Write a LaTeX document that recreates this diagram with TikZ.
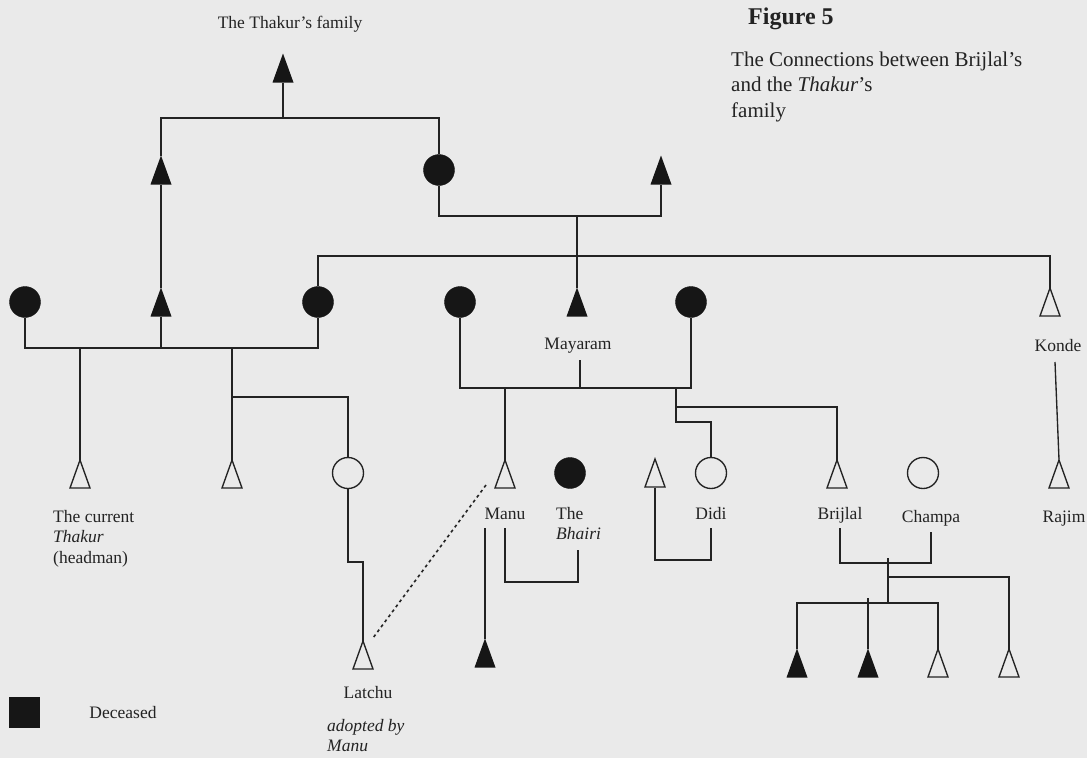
\documentclass[tikz,border=0pt]{standalone}
\usepackage{fontspec}
\setmainfont{Liberation Serif}
\definecolor{bg}{RGB}{234,234,234}
\definecolor{ink}{RGB}{35,35,35}
\definecolor{dark}{RGB}{22,22,22}
\tikzset{
  conn/.style={draw=ink, line width=1.35pt},
  dotconn/.style={draw=ink, line width=1.6pt, dash pattern=on 3pt off 3.2pt},
  dcirc/.style={circle, minimum size=31pt, inner sep=0pt, fill=dark, draw=dark},
  ocirc/.style={circle, minimum size=31pt, inner sep=0pt, draw=ink, line width=1.35pt},
  lbl/.style={font=\fontsize{17.5}{20.5}\selectfont, inner sep=0pt, text=ink},
  ttl/.style={font=\fontsize{21}{25.5}\selectfont, inner sep=0pt, text=ink},
  dtri/.pic={
    \coordinate (-top) at (0,-14.5);
    \coordinate (-bot) at (0,14.5);
    \fill[dark] (0,-14.5) -- (10.5,14.5) -- (-10.5,14.5) -- cycle;
  },
  otri/.pic={
    \coordinate (-top) at (0,-14.5);
    \coordinate (-bot) at (0,14.5);
    \draw[ink, line width=1.35pt, line join=miter] (0,-14) -- (10,14) -- (-10,14) -- cycle;
  },
}
\begin{document}
\begin{tikzpicture}[x=1pt, y=-1pt]
\path[fill=bg] (0,0) rectangle (1087,758);
\useasboundingbox (0,0) rectangle (1087,758);

% ---------- symbols ----------
\pic (t0) at (283,68) {dtri};
\pic (t1) at (161,170) {dtri};
\node[dcirc] (c1) at (439,170) {};
\pic (t2) at (661,170) {dtri};

\node[dcirc] (c2) at (25,302) {};
\pic (t3) at (161,302) {dtri};
\node[dcirc] (c3) at (318,302) {};
\node[dcirc] (c4) at (460,302) {};
\pic (t4) at (577,302) {dtri};
\node[dcirc] (c5) at (691,302) {};
\pic (t5) at (1050,302) {otri};

\pic (t6) at (80,474) {otri};
\pic (t7) at (232,474) {otri};
\node[ocirc] (c6) at (348,473) {};
\pic (t8) at (363,655) {otri};
\pic (t9) at (505,474) {otri};
\node[dcirc] (c7) at (570,473) {};
\pic (t10) at (655,473) {otri};
\node[ocirc] (c8) at (711,473) {};
\pic (t11) at (837,474) {otri};
\node[ocirc] (c9) at (923,473) {};
\pic (t12) at (1059,474) {otri};

\pic (t13) at (485,653) {dtri};
\pic (t14) at (797,663) {dtri};
\pic (t15) at (868,663) {dtri};
\pic (t16) at (938,663) {otri};
\pic (t17) at (1009,663) {otri};

\node[fill=dark, minimum size=31pt, inner sep=0pt] (legsq) at (24.5,712.5) {};

% ---------- labels ----------
\node[lbl, anchor=base] (lfam) at (290,28) {The Thakur’s family};
\node[inner sep=0pt, text=ink, font=\fontsize{24}{28}\selectfont\bfseries, anchor=base west] (lfig) at (748,24) {Figure 5};
\node[ttl, anchor=north west, align=left] (ltitle) at (731,51.5) {The Connections between Brijlal’s\\and the \textit{Thakur}’s\\family};
\node[lbl, anchor=base] (lmay) at (578,349) {Mayaram};
\node[lbl, anchor=base] (lkonde) at (1058,351) {Konde};
\node[lbl, anchor=north west, align=left] (lcur) at (53,510) {The current\\\textit{Thakur}\\(headman)};
\node[lbl, anchor=base] (lmanu) at (505,519) {Manu};
\node[lbl, anchor=north west, align=left] (lbhairi) at (556,507) {The\\\textit{Bhairi}};
\node[lbl, anchor=base] (ldidi) at (711,519) {Didi};
\node[lbl, anchor=base] (lbrij) at (840,519) {Brijlal};
\node[lbl, anchor=base] (lchampa) at (931,522) {Champa};
\node[lbl, anchor=base] (lrajim) at (1064,522) {Rajim};
\node[lbl, anchor=base] (llatchu) at (368,698) {Latchu};
\node[lbl, anchor=north west, align=left] (ladopt) at (327,719) {\textit{adopted by}\\\textit{Manu}};
\node[lbl, anchor=base] (ldec) at (123,718) {Deceased};

% ---------- junctions ----------
\coordinate (j0) at (283,118);
\coordinate (j1) at (577,216);
\coordinate (j2) at (161,348);
\coordinate (j3) at (1050,256);
\coordinate (j4) at (80,348);
\coordinate (j5) at (232,348);
\coordinate (j6) at (232,397);
\coordinate (j7) at (363,562);
\coordinate (j8) at (580,388);
\coordinate (mayl) at (580,360);
\coordinate (j9) at (505,388);
\coordinate (j10) at (676,388);
\coordinate (j11) at (676,407);
\coordinate (j12) at (676,422);
\coordinate (manu1) at (505,528);
\coordinate (manu2) at (485,528);
\coordinate (manu3) at (486,485);
\coordinate (bh1) at (578,550);
\coordinate (mm) at (541,582);
\coordinate (lat1) at (373,638);
\coordinate (di1) at (711,528);
\coordinate (dm) at (683,560);
\coordinate (br1) at (840,528);
\coordinate (ch1) at (931,532);
\coordinate (bm) at (888,563);
\coordinate (bm0) at (888,558);
\coordinate (k1) at (888,577);
\coordinate (k2) at (888,603);
\coordinate (k3) at (868,598);
\coordinate (ko1) at (1055,362);

% ---------- connectors ----------
\draw[conn] (t0-bot) -- (j0);
\draw[conn] (t1-top) |- (j0) -| (c1.north);
\draw[conn] (c1.south) |- (j1) -| (t2-bot);
\draw[conn] (j1) -- (t4-top);
\draw[conn] (t1-bot) -- (t3-top);
\draw[conn] (c2.south) |- (j2) -| (c3.south);
\draw[conn] (t3-bot) -- (j2);
\draw[conn] (c3.north) |- (j3) -- (t5-top);
\draw[conn] (j4) -- (t6-top);
\draw[conn] (j5) -- (t7-top);
\draw[conn] (j6) -| (c6.north);
\draw[conn] (c6.south) |- (j7) -- (t8-top);
\draw[conn] (c4.south) |- (j8) -| (c5.south);
\draw[conn] (mayl) -- (j8);
\draw[conn] (j9) -- (t9-top);
\draw[conn] (j10) -- (j12) -| (c8.north);
\draw[conn] (j11) -| (t11-top);
\draw[conn] (manu1) |- (mm) -| (bh1);
\draw[conn] (manu2) -- (t13-top);
\draw[dotconn] (manu3) -- (lat1);
\draw[conn] (t10-bot) |- (dm) -| (di1);
\draw[conn] (br1) |- (bm) -| (ch1);
\draw[conn] (bm0) -- (k2);
\draw[conn] (k1) -| (t17-top);
\draw[conn] (t14-top) |- (k2) -| (t16-top);
\draw[conn] (k3) -- (t15-top);
\draw[conn] (ko1) -- (t12-top);
\end{tikzpicture}
\end{document}
